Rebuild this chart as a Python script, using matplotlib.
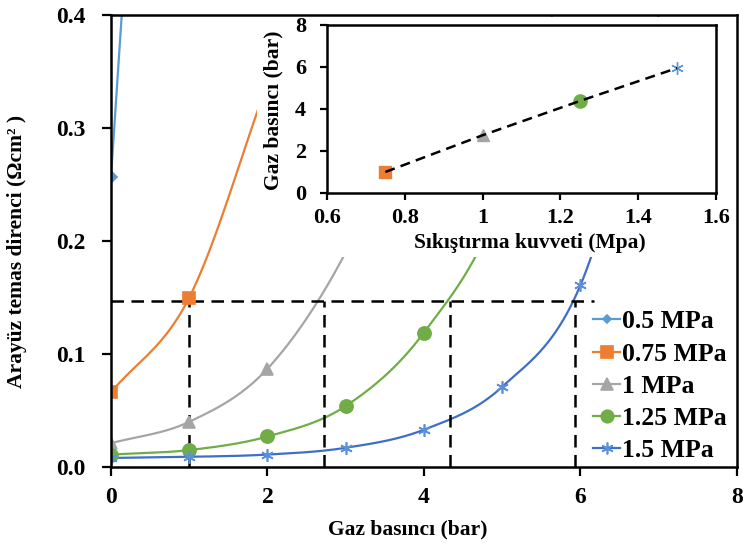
import numpy as np
import matplotlib
matplotlib.use("Agg")
import matplotlib.pyplot as plt
from matplotlib.lines import Line2D
from matplotlib.patches import Rectangle

plt.rcParams["font.family"] = ["Liberation Serif", "DejaVu Serif"]
plt.rcParams["font.weight"] = "bold"

# main chart: contact resistance vs gas pressure, one series per clamping force
labels = ["0.5 MPa", "0.75 MPa", "1 MPa", "1.25 MPa", "1.5 MPa"]
pressure = {
    "0.5 MPa": [0, 1],
    "0.75 MPa": [0, 1, 2],
    "1 MPa": [0, 1, 2, 3, 4],
    "1.25 MPa": [0, 1, 2, 3, 4, 5, 6],
    "1.5 MPa": [0, 1, 2, 3, 4, 5, 6, 7],
}
resistance = {
    "0.5 MPa": [0.257, 1.30],
    "0.75 MPa": [0.066, 0.150, 0.34],
    "1 MPa": [0.021, 0.040, 0.087, 0.19, 0.35],
    "1.25 MPa": [0.011, 0.015, 0.027, 0.054, 0.119, 0.24, 0.50],
    "1.5 MPa": [0.008, 0.009, 0.011, 0.017, 0.033, 0.071, 0.161, 0.40],
}
# markers are only shown on the measured points inside the chart
marked = {"0.5 MPa": 1, "0.75 MPa": 2, "1 MPa": 3, "1.25 MPa": 5, "1.5 MPa": 7}

# reading guides at the threshold resistance
guide_level = 0.147
guide_end = 6.17
guide_x = [1.0, 2.72, 4.33, 5.93]

# inset: gas pressure at threshold vs clamping force
force = [0.75, 1.0, 1.25, 1.5]
force_pressure = [1.0, 2.75, 4.38, 5.95]

line_colors = ["#5B9BD5", "#ED7D31", "#A5A5A5", "#70AD47", "#3F6EC6"]
mark_colors = ["#5B9BD5", "#ED7D31", "#A5A5A5", "#70AD47", "#5B8FD8"]
markers = ["D", "s", "^", "o", (6, 2, 0)]
msizes = [6, 9, 9, 9.5, 9]


def smooth(x, y, n=60):
    """Excel-like smoothed line (Catmull-Rom / cubic Hermite)."""
    x = np.asarray(x, float)
    y = np.asarray(y, float)
    if len(x) < 3:
        return x, y
    m = np.gradient(y, x)
    xs, ys = [], []
    for i in range(len(x) - 1):
        t = np.linspace(0, 1, n)
        h = x[i + 1] - x[i]
        h00 = 2 * t**3 - 3 * t**2 + 1
        h10 = t**3 - 2 * t**2 + t
        h01 = -2 * t**3 + 3 * t**2
        h11 = t**3 - t**2
        xs.append(x[i] + h * t)
        ys.append(h00 * y[i] + h10 * h * m[i] + h01 * y[i + 1] + h11 * h * m[i + 1])
    return np.concatenate(xs), np.concatenate(ys)


fig = plt.figure(figsize=(7.43, 5.47), dpi=100)
ax = fig.add_axes([0.1494, 0.14625, 0.8425, 0.8263])

handles = []
for i, lab in enumerate(labels):
    xs, ys = smooth(pressure[lab], resistance[lab])
    ax.plot(xs, ys, color=line_colors[i], lw=1.6, zorder=2)
    k = marked[lab]
    ax.plot(pressure[lab][:k], resistance[lab][:k], ls="none", marker=markers[i],
            ms=msizes[i], color=mark_colors[i], mec=mark_colors[i], mew=1.2, zorder=2.1)
    handles.append(Line2D([], [], color=line_colors[i], lw=1.6, marker=markers[i],
                          ms=4 if i == 0 else msizes[i] * 0.95, mfc=mark_colors[i],
                          mec=mark_colors[i], mew=1.2))

ax.plot([0, guide_end], [guide_level, guide_level], color="black", lw=1.8,
        dashes=(5, 3), zorder=2.05)
for gx in guide_x:
    ax.plot([gx, gx], [0, guide_level], color="black", lw=1.8, dashes=(5, 3), zorder=2.05)

ax.set_xlim(0, 8)
ax.set_ylim(0, 0.4)
ax.set_xticks([0, 2, 4, 6, 8])
ax.set_yticks([0.0, 0.1, 0.2, 0.3, 0.4])
ax.set_yticklabels(["0.0", "0.1", "0.2", "0.3", "0.4"])
ax.tick_params(direction="out", length=6.5, width=1.6, labelsize=17)
ax.tick_params(axis="x", pad=8)
ax.tick_params(axis="y", pad=12)
for s in ax.spines.values():
    s.set_linewidth(1.8)
ax.set_xlabel("Gaz basıncı (bar)", fontsize=15.5, fontweight="bold")
ax.set_ylabel("Arayüz temas direnci (Ωcm² )", fontsize=15.5, fontweight="bold")
ax.xaxis.set_label_coords(0.474, -0.117)
ax.yaxis.set_label_coords(-0.134, 0.476)

leg = ax.legend(handles, labels, loc="upper left", bbox_to_anchor=(583 / 743, 1 - 300 / 547),
                bbox_transform=fig.transFigure, frameon=False, fontsize=18.5,
                handlelength=1.05, handletextpad=0.08, labelspacing=0.36, borderaxespad=0)

# white chart area of the inset hides the curves behind it
ax.add_patch(Rectangle((257 / 743, 1 - 257 / 547), 477 / 743, 240 / 547,
                       transform=fig.transFigure, facecolor="white", edgecolor="none",
                       zorder=2.3, clip_on=False))

ins = fig.add_axes([0.4401, 0.6472, 0.5236, 0.3071])
ins.plot(force, force_pressure, color="black", lw=1.8, dashes=(4, 2.5), zorder=2)
for i in range(1, 5):
    ins.plot(force[i - 1], force_pressure[i - 1], ls="none", marker=markers[i],
             ms=msizes[i], color=mark_colors[i] if i < 4 else "#5B9BD5",
             mew=1.0, zorder=1.9)
ins.set_xlim(0.6, 1.6)
ins.set_ylim(0, 8)
ins.set_xticks([0.6, 0.8, 1.0, 1.2, 1.4, 1.6])
ins.set_xticklabels(["0.6", "0.8", "1", "1.2", "1.4", "1.6"])
ins.set_yticks([0, 2, 4, 6, 8])
ins.tick_params(direction="out", length=5, width=1.6, labelsize=16)
ins.tick_params(axis="x", pad=6)
ins.tick_params(axis="y", pad=10)
for s in ins.spines.values():
    s.set_linewidth(1.8)
ins.set_xlabel("Sıkıştırma kuvveti (Mpa)", fontsize=15.5, fontweight="bold")
ins.set_ylabel("Gaz basıncı (bar)", fontsize=15.5, fontweight="bold")
ins.xaxis.set_label_coords(0.522, -0.24)
ins.yaxis.set_label_coords(-0.113, 0.494)

fig.savefig("out.png", dpi=100)
